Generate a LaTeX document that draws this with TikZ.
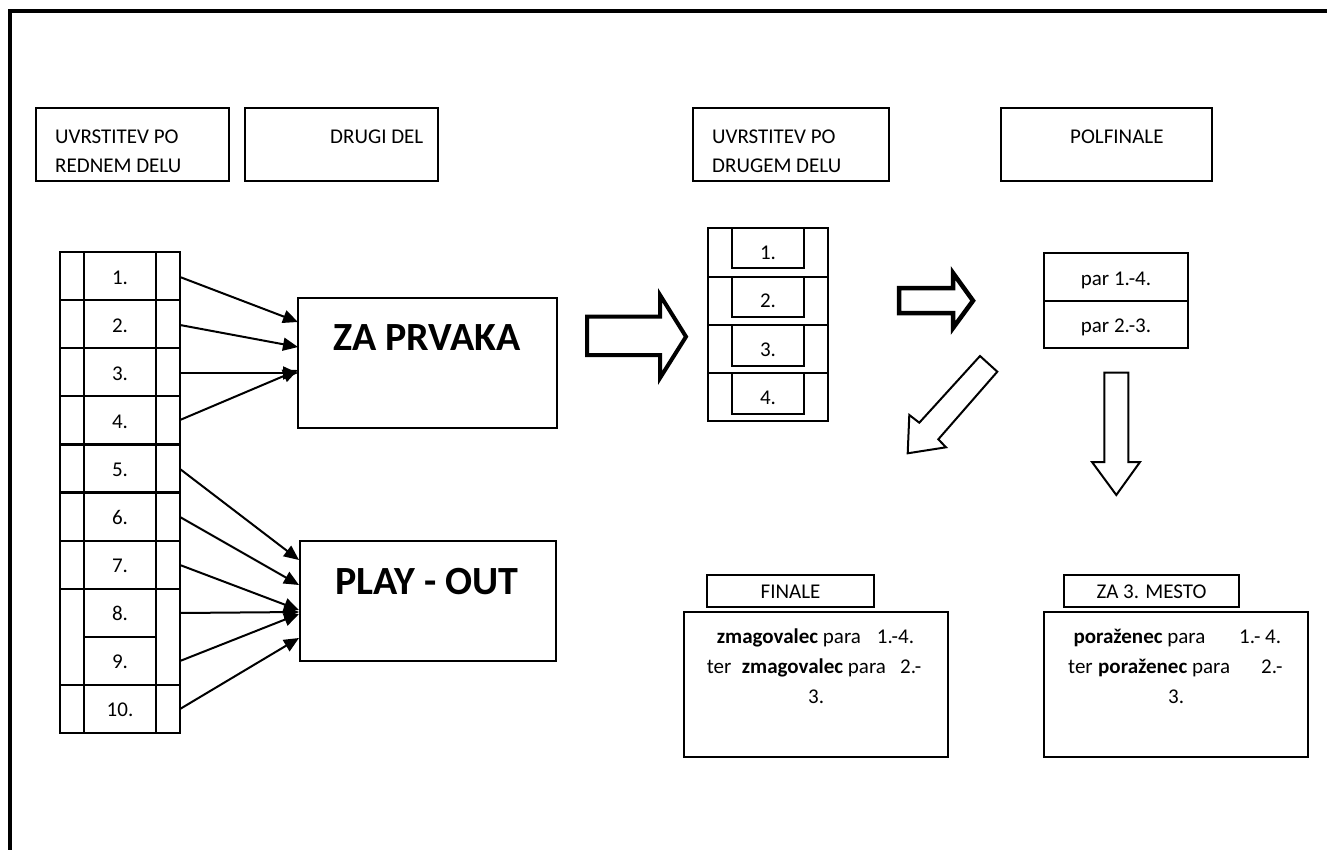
\documentclass[tikz,border=0pt]{standalone}
\usepackage{fontspec}
\setmainfont{Carlito}
\usetikzlibrary{arrows.meta}
\newcommand\myfs{\fontsize{21}{25}\selectfont}
\newcommand\mybig{\fontsize{40}{46}\selectfont\bfseries}
\begin{document}
\begin{tikzpicture}[x=1pt,y=-1pt,line join=miter]
\tikzset{
  txt/.style={inner sep=0pt,font=\myfs,anchor=base west},
  ctxt/.style={inner sep=0pt,font=\myfs,anchor=base},
  bigtxt/.style={inner sep=0pt,font=\mybig,anchor=base},
  hdr/.style={draw,line width=1.8pt,inner sep=0pt},
  grid/.style={line width=2.2pt},
  conn/.style={line width=2pt,-{Triangle[length=15pt,width=13pt]}},
  fatarrow/.style={draw,fill=white,line width=4pt},
  thinarrow/.style={draw,fill=white,line width=2pt},
}
\useasboundingbox (0,0) rectangle (1327,850);
\clip (0,0) rectangle (1327,850);
\fill[white] (0,0) rectangle (1327,850);
\draw[line width=4pt] (10.3,11.3) rectangle (1345,870);

% header boxes
\node[hdr,minimum width=193pt,minimum height=73pt] (h1) at (132.5,144.5) {};
\node[hdr,minimum width=193pt,minimum height=73pt] (h2) at (341.5,144.5) {};
\node[hdr,minimum width=196pt,minimum height=73pt] (h3) at (791,144.5) {};
\node[hdr,minimum width=211pt,minimum height=73pt] (h4) at (1106.5,144.5) {};
\node[txt] (h1a) at (55,144) {UVRSTITEV PO};
\node[txt] (h1b) at (55,173) {REDNEM DELU};
\node[txt] (h2a) at (330,144) {DRUGI DEL};
\node[txt] (h3a) at (712,144) {UVRSTITEV PO};
\node[txt] (h3b) at (712,173) {DRUGEM DELU};
\node[txt] (h4a) at (1070,144) {POLFINALE};

% left table
\draw[grid] (60,252) rectangle (180,733);
\draw[grid] (83.7,252) -- (83.7,733) (156,252) -- (156,733);
\foreach \k in {1,2,3,4,5,6,7,9}{
  \draw[grid] (60,252+48.1*\k) -- (180,252+48.1*\k);
}
\draw[grid] (83.7,252+48.1*8) -- (156,252+48.1*8);
\foreach \k [count=\i from 0] in {1,...,10}{
  \node[ctxt] (n\k) at (120,252+48.1*\i+32) {\k.};
}

% boxes
\node[hdr,line width=2pt,minimum width=259pt,minimum height=130pt] (zp) at (427.5,363) {};
\node[bigtxt] (zpt) at (427,350) {ZA PRVAKA};
\node[hdr,line width=2pt,minimum width=256pt,minimum height=120pt] (po) at (428,601) {};
\node[bigtxt] (pot) at (427,594) {PLAY - OUT};

% connectors
\foreach \k/\ys/\ye in {1/277/322,2/325/347,3/373/373,4/420/370}{
  \coordinate (s\k) at (180,\ys);
  \coordinate (t\k) at (298,\ye);
  \draw[conn] (s\k) -- (t\k);
}
\foreach \k/\ys/\ye in {5/469/560,6/517/585,7/565/610,8/613/612,9/661/614,10/709/638}{
  \coordinate (s\k) at (180,\ys);
  \coordinate (t\k) at (299,\ye);
  \draw[conn] (s\k) -- (t\k);
}

% big right arrow
\draw[fatarrow] (587,316.7) -- (660,316.7) -- (660,295) -- (686,336.7) -- (660,378) -- (660,355) -- (587,355) -- cycle;

% middle table
\draw[line width=2pt] (708,228) rectangle (828,420.7);
\foreach \t [count=\i] in {228,276.7,325,373}{
  \draw[line width=2pt] (708,\t) -- (828,\t);
  \draw[line width=2pt] (731.7,\t) rectangle (804,\t+40.5);
  \node[ctxt] (m\i) at (768,\t+31) {\i.};
}

% small fat arrow
\draw[fatarrow,line width=4.5pt] (899,288) -- (953,288) -- (953,273) -- (973,300.7) -- (953,328) -- (953,313) -- (899,313) -- cycle;

% par box
\draw[line width=2pt] (1044,252.7) rectangle (1188,348.3);
\draw[line width=2pt] (1044,300.7) -- (1188,300.7);
\node[ctxt] (p1) at (1116,285) {par 1.-4.};
\node[ctxt] (p2) at (1116,332.3) {par 2.-3.};

% diagonal arrow
\draw[thinarrow] (980,356) -- (997.3,371.7) -- (938.3,439.3) -- (946,447.3) -- (907.7,453.3) -- (909.3,415) -- (919.3,422.7) -- cycle;
% down arrow
\draw[thinarrow] (1104.3,372.7) -- (1128.3,372.7) -- (1128.3,462) -- (1140,462) -- (1116.3,495) -- (1092,462) -- (1104.3,462) -- cycle;

% finale / za 3. mesto headers
\node[hdr,minimum width=167pt,minimum height=32pt] (fin) at (790.5,591) {};
\node[ctxt] (fint) at (790.5,598) {FINALE};
\node[hdr,minimum width=175pt,minimum height=32pt] (z3) at (1151.5,591) {};
\node[ctxt] (z3t) at (1151.5,598) {ZA 3. MESTO};

% result boxes
\node[hdr,line width=2.2pt,minimum width=264pt,minimum height=144.5pt] (fr) at (816,684.5) {};
\node[txt] (f1a) at (716.7,643) {\textbf{zmagovalec} para};
\node[txt] (f1b) at (876.7,643) {1.-4.};
\node[txt] (f2a) at (706.7,673) {ter};
\node[txt] (f2b) at (741.7,673) {\textbf{zmagovalec} para};
\node[txt] (f2c) at (900,673) {2.-};
\node[txt] (f3) at (808,703) {3.};

\node[hdr,line width=2.2pt,minimum width=264pt,minimum height=145pt] (pr) at (1176,684.5) {};
\node[txt] (g1a) at (1073.3,643) {\textbf{poraženec} para};
\node[txt] (g1b) at (1239,643) {1.- 4.};
\node[txt] (g2a) at (1068,673) {ter};
\node[txt] (g2b) at (1098,673) {\textbf{poraženec} para};
\node[txt] (g2c) at (1261,673) {2.-};
\node[txt] (g3) at (1168,703) {3.};
\end{tikzpicture}
\end{document}
